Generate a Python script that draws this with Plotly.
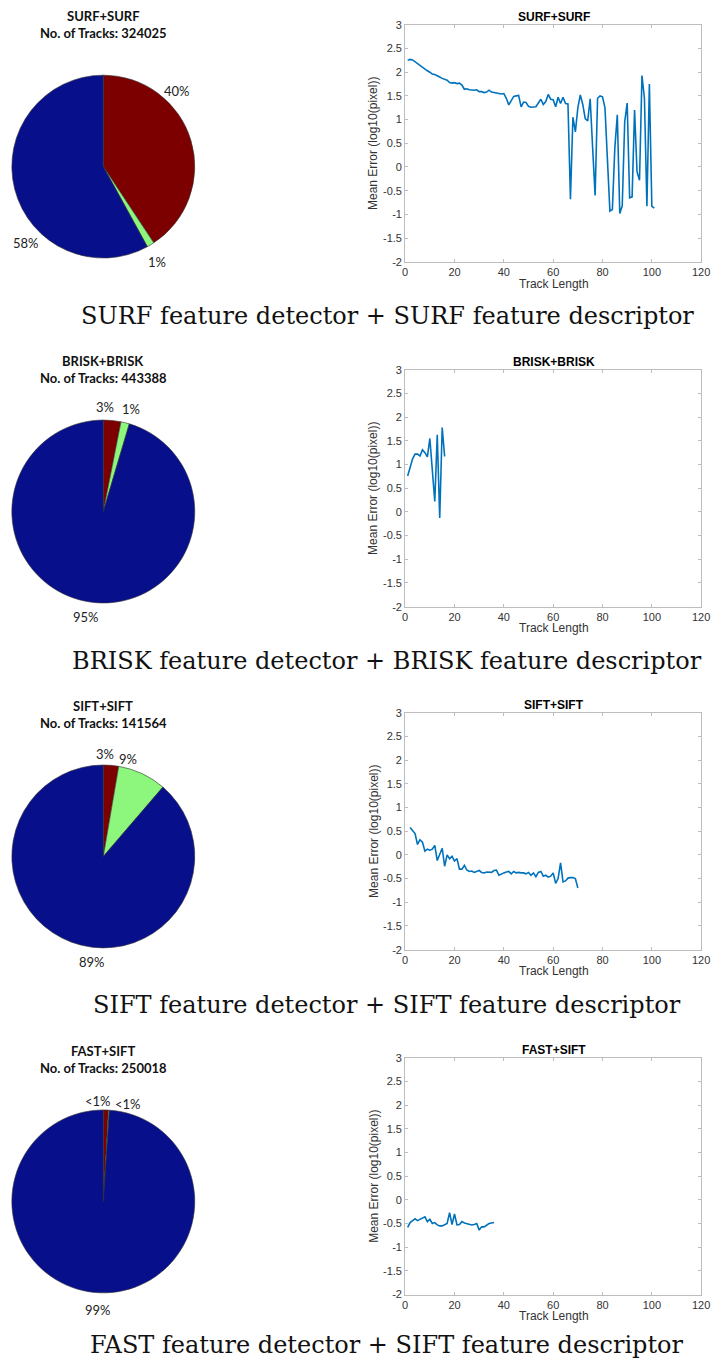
import plotly.graph_objects as go

# ---------------- data ----------------
pie_titles = ["SURF+SURF", "BRISK+BRISK", "SIFT+SIFT", "FAST+SIFT"]
track_counts = ["324025", "443388", "141564", "250018"]
pie_red = [40.7, 3.1, 2.7, 0.9]
pie_green = [1.3, 1.5, 8.6, 0.15]
pie_blue = [58.0, 95.4, 88.7, 98.95]
pie_labels = [["40%", "1%", "58%"], ["3%", "1%", "95%"], ["3%", "9%", "89%"], ["<1%", "<1%", "99%"]]
captions = [
    "SURF feature detector + SURF feature descriptor",
    "BRISK feature detector + BRISK feature descriptor",
    "SIFT feature detector + SIFT feature descriptor",
    "FAST feature detector + SIFT feature descriptor",
]

surf_x = list(range(1, 102))
surf_y = [2.25, 2.27, 2.26, 2.22, 2.18, 2.14, 2.10, 2.07, 2.03, 2.00,
          1.96, 1.95, 1.93, 1.90, 1.87, 1.85, 1.83, 1.78, 1.77, 1.78,
          1.76, 1.77, 1.73, 1.64, 1.65, 1.63, 1.62, 1.62, 1.63, 1.59,
          1.59, 1.57, 1.58, 1.62, 1.58, 1.57, 1.56, 1.54, 1.54, 1.55,
          1.45, 1.31, 1.40, 1.49, 1.50, 1.51, 1.27, 1.37, 1.36, 1.28,
          1.26, 1.26, 1.27, 1.35, 1.43, 1.32, 1.38, 1.53, 1.43, 1.42,
          1.27, 1.47, 1.34, 1.47, 1.34, 1.33, -0.68, 1.05, 0.74, 1.25,
          1.52, 1.32, 1.02, 0.97, 1.44, 0.40, -0.60, 1.45, 1.50, 1.48,
          1.25, 0.15, -0.93, -0.90, 0.40, 1.10, -0.98, -0.82, 0.95, 1.35,
          -0.65, -0.63, 1.20, -0.10, -0.28, 1.93, 1.45, -0.83, 1.75, -0.83,
          -0.87]

brisk_x = list(range(1, 17))
brisk_y = [0.76, 0.95, 1.12, 1.22, 1.22, 1.18, 1.31, 1.25, 1.16, 1.55,
           0.88, 0.22, 1.63, -0.13, 1.78, 1.17]

sift_x = list(range(2, 71))
sift_y = [0.58, 0.52, 0.45, 0.22, 0.32, 0.27, 0.08, 0.12, 0.10, 0.12,
          0.20, -0.12, 0.00, 0.14, -0.24, 0.00, -0.08, -0.03, -0.13, -0.08,
          -0.30, -0.30, -0.22, -0.32, -0.35, -0.34, -0.37, -0.35, -0.33, -0.37,
          -0.38, -0.36, -0.37, -0.37, -0.33, -0.32, -0.43, -0.40, -0.38, -0.36,
          -0.35, -0.40, -0.35, -0.38, -0.37, -0.38, -0.38, -0.40, -0.37, -0.43,
          -0.38, -0.46, -0.37, -0.35, -0.45, -0.43, -0.47, -0.45, -0.38, -0.60,
          -0.50, -0.17, -0.57, -0.55, -0.49, -0.48, -0.48, -0.50, -0.70]

fast_x = list(range(1, 37))
fast_y = [-0.58, -0.48, -0.44, -0.40, -0.44, -0.41, -0.38, -0.36, -0.46, -0.41,
          -0.50, -0.48, -0.53, -0.55, -0.55, -0.53, -0.50, -0.27, -0.52, -0.30,
          -0.53, -0.52, -0.46, -0.49, -0.50, -0.52, -0.53, -0.52, -0.50, -0.64,
          -0.57, -0.57, -0.53, -0.50, -0.49, -0.48]

line_x = [surf_x, brisk_x, sift_x, fast_x]
line_y = [surf_y, brisk_y, sift_y, fast_y]

x_ticks = [0, 20, 40, 60, 80, 100, 120]
y_ticks = [-2, -1.5, -1, -0.5, 0, 0.5, 1, 1.5, 2, 2.5, 3]
y_tick_text = ["-2", "-1.5", "-1", "-0.5", "0", "0.5", "1", "1.5", "2", "2.5", "3"]

# ---------------- layout helpers ----------------
W, H = 720, 1367
def px(x):
    return x / W
def py(y):
    return 1 - y / H

pie_cy = [162, 510, 858, 1206]
pie_cx, pie_r = 102, 93
pie_title_y = [[10, 27], [358, 375], [706, 723], [1054, 1071]]
pie_label_pos = [
    [(177, 86), (157, 258), (23, 239)],
    [(104, 405), (130, 407), (84, 616)],
    [(104, 755), (127, 760), (91, 964)],
    [(97, 1105), (127, 1108), (97, 1316)],
]
ax_top = [19, 367, 713, 1061]
ax_h = 239
ax_left, ax_right = 409, 710
caption_y = [313, 661, 1008, 1351]

fig = go.Figure()
annotations = []

for i in range(4):
    cy = pie_cy[i]
    fig.add_trace(go.Pie(
        values=[pie_red[i], pie_green[i], pie_blue[i]],
        labels=["red", "green", "blue"],
        marker=dict(colors=["#7d0000", "#8cf77c", "#07108a"],
                    line=dict(color="#333333", width=0.6)),
        sort=False, direction="clockwise", rotation=0,
        textinfo="none", hoverinfo="skip", showlegend=False,
        domain=dict(x=[px(pie_cx - pie_r), px(pie_cx + pie_r)],
                    y=[py(cy + pie_r), py(cy - pie_r)]),
    ))
    for k, txt in enumerate([pie_titles[i], "No. of Tracks: " + track_counts[i]]):
        annotations.append(dict(text="<b>" + txt + "</b>", x=px(102), y=py(pie_title_y[i][k]),
                                xref="paper", yref="paper", showarrow=False,
                                xanchor="center", yanchor="middle",
                                font=dict(family="Lato", size=13, color="#111111")))
    for k, lab in enumerate(pie_labels[i]):
        lx, ly = pie_label_pos[i][k]
        annotations.append(dict(text=lab, x=px(lx), y=py(ly), xref="paper", yref="paper",
                                showarrow=False, xanchor="center", yanchor="middle",
                                font=dict(family="Lato", size=13, color="#222222")))

    n = "" if i == 0 else str(i + 1)
    fig.add_trace(go.Scatter(x=line_x[i], y=line_y[i], mode="lines",
                             line=dict(color="#0072BD", width=1.6),
                             xaxis="x" + n, yaxis="y" + n, showlegend=False,
                             hoverinfo="skip"))
    top = ax_top[i]
    bot = top + ax_h
    axis_common = dict(showgrid=False, zeroline=False, showline=True, linecolor="#bdbdbd",
                       linewidth=1, mirror="ticks", ticks="inside", ticklen=3,
                       tickcolor="#bdbdbd", tickfont=dict(family="Liberation Sans", size=11,
                                                          color="#333333"))
    fig.update_layout(**{
        "xaxis" + n: dict(domain=[px(ax_left), px(ax_right)], range=[0, 120],
                          tickvals=x_ticks, anchor="y" + n, fixedrange=True, **axis_common),
        "yaxis" + n: dict(domain=[py(bot), py(top)], range=[-2, 3],
                          tickvals=y_ticks, ticktext=y_tick_text, anchor="x" + n,
                          fixedrange=True, **axis_common),
    })
    annotations.append(dict(text="<b>" + pie_titles[i] + "</b>", x=px(560), y=py(top - 8),
                            xref="paper", yref="paper", showarrow=False,
                            xanchor="center", yanchor="middle",
                            font=dict(family="Liberation Sans", size=12, color="#000000")))
    annotations.append(dict(text="Track Length", x=px(560), y=py(bot + 22),
                            xref="paper", yref="paper", showarrow=False,
                            xanchor="center", yanchor="middle",
                            font=dict(family="Liberation Sans", size=12, color="#333333")))
    annotations.append(dict(text="Mean Error (log10(pixel))", x=px(377), y=py(top + ax_h / 2),
                            xref="paper", yref="paper", showarrow=False, textangle=-90,
                            xanchor="center", yanchor="middle",
                            font=dict(family="Liberation Sans", size=12, color="#333333")))
    annotations.append(dict(text=captions[i], x=px(391), y=py(caption_y[i]),
                            xref="paper", yref="paper", showarrow=False,
                            xanchor="center", yanchor="middle",
                            font=dict(family="DejaVu Serif", size=24, color="#111111")))

fig.update_layout(width=W, height=H, margin=dict(l=0, r=0, t=0, b=0),
                  paper_bgcolor="white", plot_bgcolor="white",
                  annotations=annotations)

fig.write_html("out.html", config={"displayModeBar": False, "staticPlot": True},
               post_script="document.body.style.margin='0';document.body.style.overflow='hidden';")
